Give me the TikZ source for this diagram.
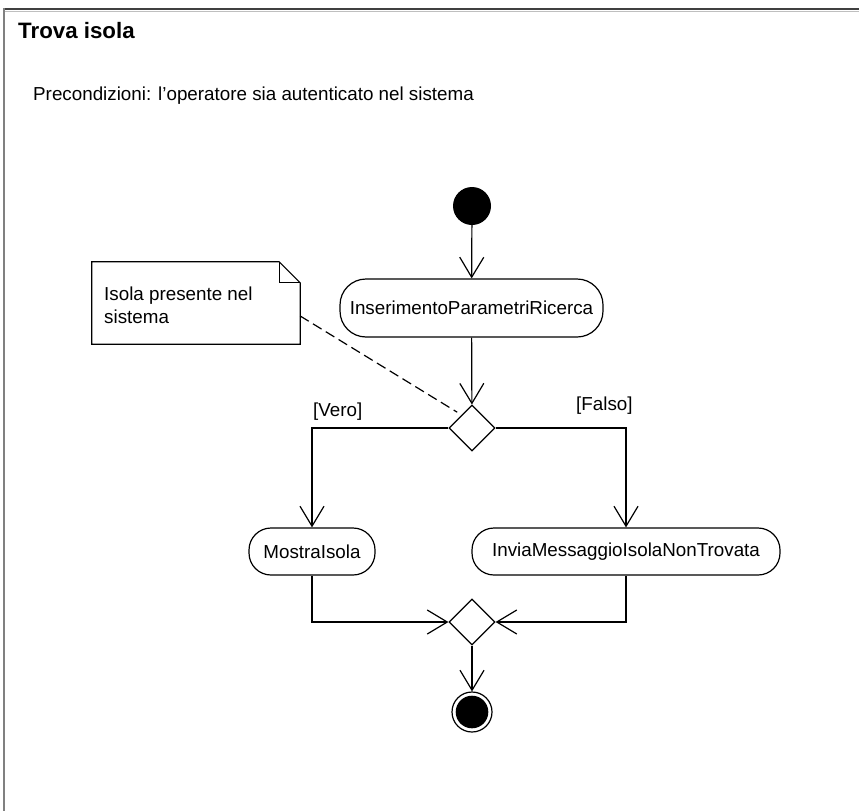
\documentclass[tikz,border=0pt]{standalone}
\usepackage{fontspec}
\setmainfont{Liberation Sans}
\usetikzlibrary{arrows.meta,shapes.geometric,calc}

\begin{document}
\begin{tikzpicture}[x=1pt,y=-1pt,
  txt/.style={font=\fontsize{18.8}{22.5}\selectfont, inner sep=0pt},
  action/.style={draw, line width=1.2pt, rounded corners=22pt, txt, inner sep=0pt},
  choice/.style={draw, line width=1.2pt, diamond, minimum width=46pt, minimum height=46pt, inner sep=0pt},
  flow/.style={line width=1.2pt, -{Straight Barb[length=20pt,width=24pt,line width=1.2pt]}},
  notelink/.style={line width=1.2pt, dash pattern=on 10pt off 5pt}]
\useasboundingbox (0,0) rectangle (859,811);
\fill[white] (0,0) rectangle (859,811);

% frame of the diagram
\draw[line width=2pt, color=black!75] (4,9) -- (859,9);
\draw[line width=1.5pt, color=black!25] (5,11.5) -- (859,11.5);
\draw[line width=2.5pt, color=black!50] (4,8) -- (4,811);

% heading and precondition
\node[anchor=base west, inner sep=0pt, font=\fontsize{22.3}{26}\bfseries\selectfont] (title) at (18,38) {Trova isola};
\node[txt, anchor=base west] (pre) at (33,100) {Precondizioni: l'operatore sia autenticato nel sistema};

% nodes of the activity
\node[circle, fill=black, minimum size=38pt, inner sep=0pt] (start) at (472,206) {};
\node[action, minimum width=263pt, minimum height=58pt, rounded corners=26pt] (act1) at (471.5,308) {InserimentoParametriRicerca};
\node[choice] (dec) at (472,428) {};
\node[action, minimum width=126pt, minimum height=47pt] (mostra) at (312,551.5) {MostraIsola};
\node[action, minimum width=308pt, minimum height=47pt] (invia) at (626,551.5) {InviaMessaggioIsolaNonTrovata};
\node[choice] (merge) at (472,622) {};
\node[circle, draw, line width=1.2pt, minimum size=40pt, inner sep=0pt] (end) at (472,712) {};
\fill[black] (end.center) circle (16.3pt);

% note
\node[minimum width=208pt, minimum height=82pt, inner sep=0pt] (note) at (196,303) {};
\draw[line width=1.2pt] (note.north west) -- ($(note.north east)+(-21,0)$) -- ($(note.north east)+(0,21)$)
  -- (note.south east) -- (note.south west) -- cycle;
\draw[line width=1.2pt] ($(note.north east)+(-21,0)$) -- ($(note.north east)+(-21,21)$) -- ($(note.north east)+(0,21)$);
\node[txt, anchor=north west, align=left] (notetext) at (104,287) {Isola presente nel\\sistema};

% guards
\node[txt, anchor=base west] (vero) at (313,416) {[Vero]};
\node[txt, anchor=base west] (falso) at (576,410) {[Falso]};

% control flow
\draw[flow] (start) -- (act1);
\draw[flow] (act1) -- (dec);
\draw[flow] (dec.west) -| (mostra.north);
\draw[flow] (dec.east) -| (invia.north);
\draw[flow] (mostra.south) |- (merge.west);
\draw[flow] (invia.south) |- (merge.east);
\draw[flow] (merge.south) -- (end);

% note attachment
\draw[notelink] ($(note.east)+(0,13)$) -- ($(dec.north west)+(-3,-4)$);
\end{tikzpicture}
\end{document}
